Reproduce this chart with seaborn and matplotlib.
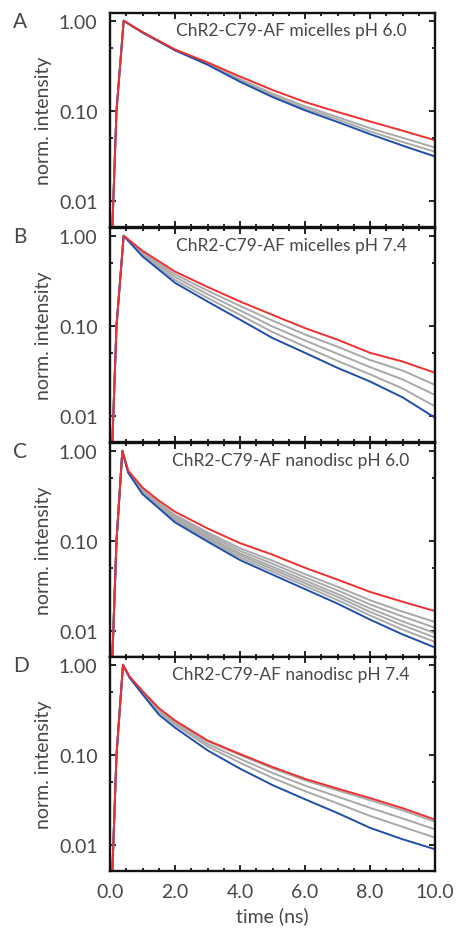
import matplotlib
matplotlib.use("Agg")
import matplotlib.pyplot as plt
import matplotlib.ticker as mticker
import seaborn as sns
import pandas as pd

# ---------------- data ----------------
panel_letters = ["A", "B", "C", "D"]
panel_titles = ["ChR2-C79-AF micelles pH 6.0", "ChR2-C79-AF micelles pH 7.4",
                "ChR2-C79-AF nanodisc pH 6.0", "ChR2-C79-AF nanodisc pH 7.4"]

# Panel A
time_a = [0.05, 0.2, 0.42, 1, 2, 3, 4, 5, 6, 7, 8, 9, 10]
red_a = [0.003, 0.1, 1.0, 0.75, 0.48, 0.345, 0.24, 0.17, 0.125, 0.097, 0.076, 0.060, 0.047]
blue_a = [0.003, 0.1, 1.0, 0.74, 0.47, 0.325, 0.21, 0.142, 0.101, 0.075, 0.055, 0.041, 0.031]
gray_a = [
    [0.003, 0.1, 1.0, 0.745, 0.475, 0.335, 0.225, 0.155, 0.112, 0.085, 0.064, 0.050, 0.039],
    [0.003, 0.1, 1.0, 0.74, 0.47, 0.33, 0.218, 0.148, 0.106, 0.080, 0.059, 0.045, 0.035],
]

# Panel B
time_b = [0.05, 0.2, 0.42, 1, 2, 3, 4, 5, 6, 7, 8, 9, 10]
red_b = [0.003, 0.1, 1.0, 0.68, 0.40, 0.27, 0.186, 0.132, 0.094, 0.070, 0.050, 0.040, 0.030]
blue_b = [0.003, 0.1, 1.0, 0.59, 0.30, 0.186, 0.117, 0.073, 0.050, 0.034, 0.024, 0.016, 0.0095]
gray_b = [
    [0.003, 0.1, 1.0, 0.656, 0.372, 0.246, 0.166, 0.114, 0.080, 0.0585, 0.0416, 0.0318, 0.022],
    [0.003, 0.1, 1.0, 0.634, 0.347, 0.224, 0.148, 0.098, 0.0686, 0.0488, 0.0347, 0.0253, 0.017],
    [0.003, 0.1, 1.0, 0.611, 0.322, 0.204, 0.132, 0.085, 0.0586, 0.0407, 0.0288, 0.0201, 0.0127],
]

# Panel C
time_c = [0.05, 0.2, 0.38, 0.56, 1, 1.5, 2, 3, 4, 5, 6, 7, 8, 9, 10]
red_c = [0.003, 0.1, 1.0, 0.60, 0.39, 0.28, 0.21, 0.137, 0.094, 0.070, 0.050, 0.037, 0.027, 0.021, 0.0165]
blue_c = [0.003, 0.1, 1.0, 0.57, 0.33, 0.23, 0.16, 0.098, 0.061, 0.042, 0.029, 0.020, 0.0133, 0.0091, 0.0065]
gray_c = [
    [0.003, 0.1, 1.0, 0.59, 0.371, 0.264, 0.194, 0.124, 0.0826, 0.060, 0.0425, 0.0308, 0.0218, 0.0163, 0.0125],
    [0.003, 0.1, 1.0, 0.585, 0.362, 0.256, 0.186, 0.118, 0.0773, 0.0556, 0.0391, 0.0281, 0.0196, 0.0144, 0.0108],
    [0.003, 0.1, 1.0, 0.58, 0.353, 0.249, 0.178, 0.112, 0.0724, 0.0515, 0.0361, 0.0256, 0.0177, 0.0127, 0.0094],
    [0.003, 0.1, 1.0, 0.578, 0.346, 0.243, 0.173, 0.108, 0.0689, 0.0484, 0.0337, 0.0238, 0.0162, 0.0115, 0.0084],
    [0.003, 0.1, 1.0, 0.574, 0.339, 0.237, 0.167, 0.103, 0.065, 0.0453, 0.0315, 0.0219, 0.0148, 0.0103, 0.0075],
]

# Panel D
time_d = [0.05, 0.2, 0.4, 0.6, 1, 1.5, 2, 3, 4, 5, 6, 7, 8, 9, 10]
red_d = [0.003, 0.1, 1.0, 0.74, 0.51, 0.33, 0.24, 0.144, 0.102, 0.073, 0.054, 0.042, 0.033, 0.0255, 0.019]
blue_d = [0.003, 0.1, 1.0, 0.72, 0.47, 0.28, 0.20, 0.112, 0.070, 0.046, 0.032, 0.0225, 0.0154, 0.0115, 0.0089]
gray_d = [
    [0.003, 0.1, 1.0, 0.739, 0.507, 0.326, 0.237, 0.141, 0.0993, 0.0707, 0.052, 0.0402, 0.0313, 0.0241, 0.018],
    [0.003, 0.1, 1.0, 0.733, 0.497, 0.313, 0.226, 0.132, 0.0902, 0.0627, 0.0454, 0.0342, 0.0257, 0.0196, 0.0148],
    [0.003, 0.1, 1.0, 0.728, 0.485, 0.299, 0.215, 0.124, 0.0815, 0.0553, 0.0394, 0.0288, 0.0209, 0.0158, 0.012],
]

x_ticks = [0, 2, 4, 6, 8, 10]
x_ticklabels = ["0.0", "2.0", "4.0", "6.0", "8.0", "10.0"]
y_ticks = [1.0, 0.1, 0.01]
y_ticklabels = ["1.00", "0.10", "0.01"]
y_minor = [0.5, 0.05, 0.005]

panels = [
    (time_a, red_a, blue_a, gray_a),
    (time_b, red_b, blue_b, gray_b),
    (time_c, red_c, blue_c, gray_c),
    (time_d, red_d, blue_d, gray_d),
]

# ---------------- style ----------------
sns.set_style("ticks")
plt.rcParams["font.family"] = ["Lato", "DejaVu Sans"]
TEXT = "#474747"
RED = "#f03030"
BLUE = "#1f4fa8"
GRAY = "#a9a9a9"

W, H = 458, 929
fig = plt.figure(figsize=(W / 100, H / 100), dpi=100)

ax_left = 110 / W
ax_w = 325 / W
tops = [14, 229, 444, 658]
ph = 214

for i, (t, red, blue, grays) in enumerate(panels):
    top = tops[i]
    ax = fig.add_axes([ax_left, 1 - (top + ph) / H, ax_w, ph / H])
    for g in grays:
        sns.lineplot(x=t, y=g, ax=ax, color=GRAY, lw=1.4, estimator=None, sort=False)
    sns.lineplot(x=t, y=blue, ax=ax, color=BLUE, lw=1.4, estimator=None, sort=False)
    sns.lineplot(x=t, y=red, ax=ax, color=RED, lw=1.4, estimator=None, sort=False)

    ax.set_yscale("log")
    ax.set_xlim(0, 10)
    ax.set_ylim(0.0051, 1.22)

    ax.yaxis.set_major_locator(mticker.FixedLocator(y_ticks))
    ax.yaxis.set_major_formatter(mticker.FixedFormatter(y_ticklabels))
    ax.yaxis.set_minor_locator(mticker.FixedLocator(y_minor))
    ax.yaxis.set_minor_formatter(mticker.NullFormatter())
    ax.xaxis.set_major_locator(mticker.FixedLocator(x_ticks))
    ax.xaxis.set_minor_locator(mticker.MultipleLocator(0.5))
    if i == 3:
        ax.set_xticklabels(x_ticklabels)
        ax.set_xlabel("time (ns)", fontsize=14, color=TEXT, va="top")
        ax.xaxis.set_label_coords(0.5, -0.165)
    else:
        ax.set_xticklabels([])
        ax.set_xlabel("")

    ax.tick_params(axis="both", which="both", direction="in", top=True, right=True,
                   color="black", width=1.2)
    ax.tick_params(axis="both", which="major", length=4, labelsize=14, labelcolor=TEXT, pad=9)
    ax.tick_params(axis="both", which="minor", length=2.5)

    for s in ax.spines.values():
        s.set_color("#111111")
        s.set_linewidth(1.7)

    ax.set_ylabel("norm. intensity", fontsize=14, color=TEXT)
    ax.yaxis.set_label_coords(-0.178, 0.5)

    ax.text(0.557, 0.897, panel_titles[i], transform=ax.transAxes, ha="center",
            va="baseline", fontsize=12.5, color=TEXT)
    ax.text(-0.298, 0.935, panel_letters[i], transform=ax.transAxes, ha="left",
            va="baseline", fontsize=15, color=TEXT)

fig.savefig("out.png", dpi=100)
